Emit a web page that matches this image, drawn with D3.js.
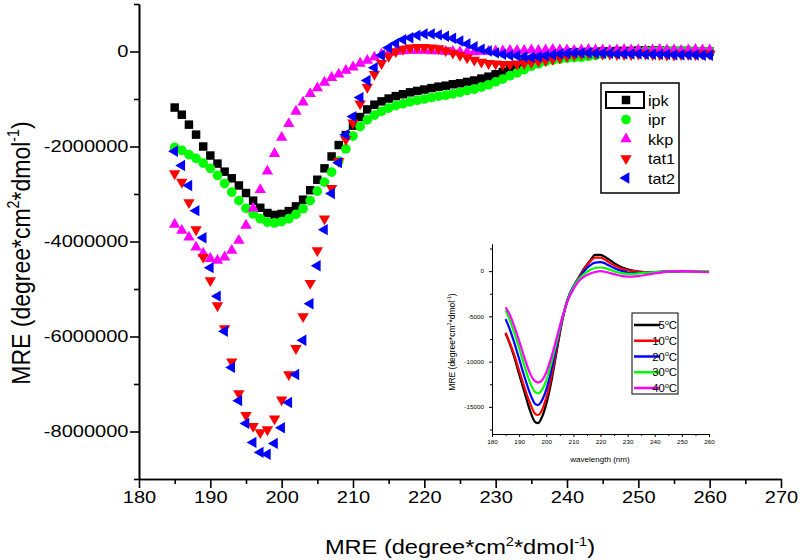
<!DOCTYPE html>
<html><head><meta charset="utf-8">
<script src="https://cdn.jsdelivr.net/npm/d3@7"></script>
<style>
body{margin:0;background:#fff}
svg{display:block}
text{font-family:"Liberation Sans",Arial,sans-serif;fill:#000}
</style>
</head><body>
<svg id="c" width="800" height="560"></svg>
<script>
// ---------- main chart data ----------
const wavelength = [185,186,187,188,189,190,191,192,193,194,
  195,196,197,198,199,200,201,202,203,204,
  205,206,207,208,209,210,211,212,213,214,
  215,216,217,218,219,220,221,222,223,224,
  225,226,227,228,229,230,231,232,233,234,
  235,236,237,238,239,240,241,242,243,244,
  245,246,247,248,249,250,251,252,253,254,
  255,256,257,258,259,260];

const ipk = [-1.18e6,-1.33e6,-1.54e6,-1.75e6,-2.00e6,-2.19e6,-2.36e6,-2.53e6,-2.67e6,-2.82e6,
  -2.98e6,-3.14e6,-3.29e6,-3.40e6,-3.44e6,-3.42e6,-3.36e6,-3.26e6,-3.12e6,-2.92e6,
  -2.70e6,-2.46e6,-2.21e6,-1.97e6,-1.76e6,-1.56e6,-1.38e6,-1.22e6,-1.12e6,-1.05e6,
  -0.99e6,-0.94e6,-0.90e6,-0.86e6,-0.83e6,-0.80e6,-0.77e6,-0.74e6,-0.72e6,-0.69e6,
  -0.67e6,-0.64e6,-0.61e6,-0.57e6,-0.53e6,-0.48e6,-0.43e6,-0.37e6,-0.31e6,-0.25e6,
  -0.19e6,-0.13e6,-0.09e6,-0.06e6,-0.04e6,-0.03e6,-0.02e6,-0.02e6,-0.01e6,-0.01e6,
  0,0,0.01e6,0.01e6,0.01e6,0.02e6,0.02e6,0.02e6,0.02e6,0.01e6,
  0.01e6,0.01e6,0.01e6,0,0,0];

const ipr = [-2.02e6,-2.08e6,-2.17e6,-2.25e6,-2.35e6,-2.46e6,-2.61e6,-2.78e6,-2.96e6,-3.14e6,
  -3.30e6,-3.42e6,-3.52e6,-3.59e6,-3.61e6,-3.58e6,-3.52e6,-3.43e6,-3.31e6,-3.14e6,
  -2.94e6,-2.75e6,-2.54e6,-2.31e6,-2.05e6,-1.78e6,-1.58e6,-1.44e6,-1.34e6,-1.26e6,
  -1.19e6,-1.14e6,-1.10e6,-1.06e6,-1.03e6,-1.00e6,-0.97e6,-0.94e6,-0.92e6,-0.89e6,
  -0.86e6,-0.82e6,-0.79e6,-0.75e6,-0.70e6,-0.64e6,-0.58e6,-0.51e6,-0.45e6,-0.38e6,
  -0.31e6,-0.26e6,-0.21e6,-0.18e6,-0.16e6,-0.14e6,-0.13e6,-0.12e6,-0.10e6,-0.08e6,
  -0.06e6,-0.04e6,-0.03e6,-0.02e6,-0.01e6,0,0.01e6,0.01e6,0.02e6,0.02e6,
  0.02e6,0.02e6,0.02e6,0.01e6,0.01e6,0.01e6];

const kkp = [-3.64e6,-3.77e6,-3.91e6,-4.12e6,-4.25e6,-4.36e6,-4.40e6,-4.33e6,-4.19e6,-3.98e6,
  -3.66e6,-3.30e6,-2.91e6,-2.52e6,-2.15e6,-1.81e6,-1.52e6,-1.26e6,-1.07e6,-0.89e6,
  -0.77e6,-0.65e6,-0.55e6,-0.48e6,-0.40e6,-0.33e6,-0.25e6,-0.19e6,-0.12e6,-0.06e6,
  -0.02e6,0,0.01e6,0.02e6,0.02e6,0.02e6,0.01e6,0.01e6,0,0,
  -0.01e6,-0.01e6,-0.01e6,0,0,0.01e6,0.01e6,0.02e6,0.02e6,0.02e6,
  0.03e6,0.02e6,0.03e6,0.04e6,0.03e6,0.03e6,0.02e6,0.03e6,0.04e6,0.03e6,
  0.03e6,0.02e6,0.03e6,0.04e6,0.03e6,0.03e6,0.02e6,0.03e6,0.04e6,0.03e6,
  0.03e6,0.02e6,0.03e6,0.04e6,0.03e6,0.03e6];

const tat1 = [-2.57e6,-2.75e6,-3.18e6,-3.75e6,-4.33e6,-4.82e6,-5.35e6,-5.83e6,-6.53e6,-7.20e6,
  -7.66e6,-7.89e6,-8.02e6,-7.96e6,-7.73e6,-7.33e6,-6.80e6,-6.25e6,-5.58e6,-4.88e6,
  -4.19e6,-3.52e6,-2.88e6,-2.31e6,-1.85e6,-1.50e6,-1.10e6,-0.75e6,-0.48e6,-0.25e6,
  -0.10e6,0,0.05e6,0.08e6,0.09e6,0.09e6,0.08e6,0.06e6,0.02e6,-0.03e6,
  -0.08e6,-0.13e6,-0.18e6,-0.22e6,-0.25e6,-0.26e6,-0.27e6,-0.27e6,-0.26e6,-0.25e6,
  -0.23e6,-0.21e6,-0.19e6,-0.16e6,-0.13e6,-0.10e6,-0.07e6,-0.05e6,-0.04e6,-0.04e6,
  -0.05e6,-0.05e6,-0.06e6,-0.06e6,-0.06e6,-0.05e6,-0.05e6,-0.06e6,-0.06e6,-0.07e6,
  -0.07e6,-0.06e6,-0.06e6,-0.06e6,-0.05e6,-0.05e6];

const tat2 = [-2.10e6,-2.40e6,-2.82e6,-3.35e6,-3.92e6,-4.55e6,-5.15e6,-5.89e6,-6.65e6,-7.35e6,
  -7.83e6,-8.23e6,-8.44e6,-8.48e6,-8.25e6,-7.92e6,-7.39e6,-6.80e6,-6.08e6,-5.31e6,
  -4.51e6,-3.75e6,-2.99e6,-2.34e6,-1.75e6,-1.37e6,-0.97e6,-0.61e6,-0.34e6,-0.08e6,
  0.08e6,0.17e6,0.25e6,0.29e6,0.34e6,0.37e6,0.37e6,0.35e6,0.32e6,0.28e6,
  0.22e6,0.16e6,0.10e6,0.05e6,0.01e6,-0.03e6,-0.06e6,-0.08e6,-0.09e6,-0.11e6,
  -0.12e6,-0.11e6,-0.09e6,-0.07e6,-0.05e6,-0.04e6,-0.03e6,-0.03e6,-0.03e6,-0.04e6,
  -0.04e6,-0.04e6,-0.05e6,-0.05e6,-0.05e6,-0.05e6,-0.06e6,-0.06e6,-0.06e6,-0.06e6,
  -0.07e6,-0.07e6,-0.07e6,-0.07e6,-0.08e6,-0.08e6];

const seriesNames = ["ipk","ipr","kkp","tat1","tat2"];
const xTickLabels = [180,190,200,210,220,230,240,250,260,270];
const xMinorTicks = [185,195,205,215,225,235,245,255,265];
const yTickLabels = [0,-2000000,-4000000,-6000000,-8000000];
const yMinorTicks = [1000000,-1000000,-3000000,-5000000,-7000000,-9000000];

// ---------- inset data ----------
const insetWavelength = [185,186,188,190,192,194,196,197,198,200,202,204,206,208,210,212,214,216,218,220,222,224,226,228,230,232,234,236,238,240,245,250,255,260];
const t5  = [-6900,-7600,-9300,-11400,-13400,-15400,-16700,-16800,-16400,-14700,-12000,-8600,-5300,-3100,-1800,-700,300,1100,1800,1800,1500,1100,700,400,200,50,-50,-100,-100,-100,-50,0,0,0];
const t10 = [-6800,-7500,-9100,-11000,-12900,-14600,-15800,-15900,-15600,-14000,-11500,-8400,-5300,-3000,-1700,-700,200,1000,1500,1500,1200,800,500,250,100,0,-50,-100,-100,-100,-50,0,0,0];
const t20 = [-5300,-6000,-7700,-9700,-11700,-13500,-14700,-14800,-14500,-13100,-10800,-8000,-5200,-3000,-1700,-800,0,600,950,1000,800,500,200,0,-150,-200,-200,-200,-150,-100,-50,0,0,0];
const t30 = [-4300,-5000,-6600,-8500,-10500,-12300,-13400,-13500,-13300,-12100,-10000,-7600,-5100,-3100,-1800,-900,-300,100,350,400,300,100,-100,-250,-300,-300,-250,-200,-150,-100,-50,0,0,0];
const t40 = [-4000,-4500,-5900,-7700,-9600,-11300,-12200,-12300,-12200,-11200,-9400,-7200,-5000,-3200,-2000,-1100,-600,-300,-100,0,-100,-250,-400,-550,-600,-600,-550,-450,-350,-250,-50,0,-50,-100];
const insetNames = ["5","10","20","30","40"];
const insetXTicks = [180,190,200,210,220,230,240,250,260];
const insetXMinor = [185,195,205,215,225,235,245,255];
const insetYTicks = [0,-5000,-10000,-15000];
const insetYMinor = [2500,-2500,-7500,-12500,-17500];

// ---------- drawing ----------
const svg = d3.select("#c");
const SX = 1.18; // horizontal text stretch of the original image
const plain = d => String(d); // hyphen-minus, as in the original

function rich(sel, parts, fs){
  let shifted = false;
  parts.forEach(([t, sup]) => {
    const ts = sel.append("tspan").text(t);
    if (sup) { ts.attr("font-size", fs*0.62).attr("dy", -fs*0.42); shifted = true; }
    else if (shifted) { ts.attr("dy", fs*0.42); shifted = false; }
  });
}

const x = d3.scaleLinear().domain([180,270]).range([139,781]);
const y = d3.scaleLinear().domain([-9000000,1000000]).range([479,4]);

function styleAxis(g, w){
  g.selectAll(".domain").attr("stroke","#000").attr("stroke-width",w);
  g.selectAll(".tick line").attr("stroke","#000").attr("stroke-width",w);
}

// main x axis
const gxm = svg.append("g").attr("transform","translate(0,479)")
  .call(d3.axisBottom(x).tickValues(xMinorTicks).tickSize(5).tickSizeOuter(0).tickFormat(""));
styleAxis(gxm,1.6);
const gx = svg.append("g").attr("transform","translate(0,479)")
  .call(d3.axisBottom(x).tickValues(xTickLabels).tickSize(9).tickPadding(3).tickSizeOuter(0).tickFormat(plain));
styleAxis(gx,1.6);
gx.selectAll("text").attr("font-size",17).attr("transform",`scale(${SX},1)`);

// main y axis
const gym = svg.append("g").attr("transform","translate(139,0)")
  .call(d3.axisLeft(y).tickValues(yMinorTicks).tickSize(5).tickSizeOuter(0).tickFormat(""));
styleAxis(gym,1.6);
const gy = svg.append("g").attr("transform","translate(139,0)")
  .call(d3.axisLeft(y).tickValues(yTickLabels).tickSize(9).tickSizeOuter(0).tickFormat(plain));
styleAxis(gy,1.6);
gy.selectAll("text").attr("font-size",17).attr("x",-10.5/SX).attr("transform",`scale(${SX},1)`);

// titles
const xt = svg.append("text").attr("text-anchor","middle").attr("font-size",20)
  .attr("transform",`translate(460,554) scale(${SX},1)`);
rich(xt, [["MRE (degree*cm",0],["2",1],["*dmol",0],["-1",1],[")",0]], 20);
const yt = svg.append("text").attr("text-anchor","middle").attr("font-size",23)
  .attr("transform",`translate(30,253) scale(1.15,1) rotate(-90)`);
rich(yt, [["MRE (degree*cm",0],["2",1],["*dmol",0],["-1",1],[")",0]], 23);

// symbols
const shapes = {
  ipk:  {type:d3.symbolSquare,   size:72, rot:0,   color:"#000000"},
  ipr:  {type:d3.symbolCircle,   size:74, rot:0,   color:"#00ff00"},
  kkp:  {type:d3.symbolTriangle, size:56, rot:0,   color:"#ff00ff"},
  tat1: {type:d3.symbolTriangle, size:56, rot:180, color:"#ff0000"},
  tat2: {type:d3.symbolTriangle, size:56, rot:-90, color:"#0000ff"}
};
const seriesValues = {ipk, ipr, kkp, tat1, tat2};

seriesNames.forEach(name => {
  const s = shapes[name];
  const path = d3.symbol().type(s.type).size(s.size)();
  const pts = wavelength.map((w,i)=>({w, v: seriesValues[name][i]}));
  svg.append("g").selectAll("path").data(pts).join("path")
    .attr("d", path).attr("fill", s.color)
    .attr("transform", d => `translate(${x(d.w)},${y(d.v)}) rotate(${s.rot})`);
});

// legend
const lg = svg.append("g");
lg.append("rect").attr("x",601).attr("y",83).attr("width",78).attr("height",110)
  .attr("fill","#fff").attr("stroke","#000").attr("stroke-width",1.5);
lg.append("rect").attr("x",606).attr("y",92).attr("width",38).attr("height",16)
  .attr("fill","none").attr("stroke","#000").attr("stroke-width",2);
const legY = d3.scalePoint().domain(seriesNames).range([100,178]);
seriesNames.forEach(name => {
  const s = shapes[name];
  lg.append("path").attr("d", d3.symbol().type(s.type).size(s.size)()).attr("fill", s.color)
    .attr("transform", `translate(626,${legY(name)}) rotate(${s.rot})`);
  lg.append("text").attr("font-size",15).attr("transform",`translate(648,${legY(name)+5.5}) scale(1.08,1)`).text(name);
});

// ---------- inset ----------
const xi = d3.scaleLinear().domain([180,260]).range([492,709]);
const yi = d3.scaleLinear().domain([-18000,3000]).range([434,244]);

const gxi2 = svg.append("g").attr("transform","translate(0,434)")
  .call(d3.axisBottom(xi).tickValues(insetXMinor).tickSize(2).tickSizeOuter(0).tickFormat(""));
styleAxis(gxi2,1);
const gxi = svg.append("g").attr("transform","translate(0,434)")
  .call(d3.axisBottom(xi).tickValues(insetXTicks).tickSize(3).tickPadding(3).tickSizeOuter(0).tickFormat(plain));
styleAxis(gxi,1);
gxi.selectAll("text").attr("font-size",5.5).attr("transform","scale(1.15,1)");

const gyi2 = svg.append("g").attr("transform","translate(492,0)")
  .call(d3.axisLeft(yi).tickValues(insetYMinor).tickSize(2).tickSizeOuter(0).tickFormat(""));
styleAxis(gyi2,1);
const gyi = svg.append("g").attr("transform","translate(492,0)")
  .call(d3.axisLeft(yi).tickValues(insetYTicks).tickSize(3).tickPadding(5).tickSizeOuter(0).tickFormat(plain));
styleAxis(gyi,1);
gyi.selectAll("text").attr("font-size",5.5).attr("x",-8/1.15).attr("transform","scale(1.15,1)");

svg.append("text").attr("text-anchor","middle").attr("font-size",7)
  .attr("transform",`translate(600,462) scale(1.15,1)`).text("wavelength (nm)");
const yti = svg.append("text").attr("text-anchor","middle").attr("font-size",8.5)
  .attr("transform",`translate(455,342) rotate(-90)`);
rich(yti, [["MRE (degree*cm",0],["2",1],["*dmol",0],["-1",1],[")",0]], 8.5);

const insetColors = {"5":"#000000","10":"#ff0000","20":"#0000ff","30":"#00ff00","40":"#ff00ff"};
const insetValues = {"5":t5,"10":t10,"20":t20,"30":t30,"40":t40};
const line = d3.line().x(d=>xi(d.w)).y(d=>yi(d.v)).curve(d3.curveMonotoneX);
insetNames.forEach(n => {
  const pts = insetWavelength.map((w,i)=>({w, v: insetValues[n][i]}));
  svg.append("path").attr("d", line(pts)).attr("fill","none")
    .attr("stroke", insetColors[n]).attr("stroke-width",2.2);
});

// inset legend
const il = svg.append("g");
il.append("rect").attr("x",632).attr("y",313).attr("width",46).attr("height",81)
  .attr("fill","#fff").attr("stroke","#000").attr("stroke-width",1);
const ilY = d3.scalePoint().domain(insetNames).range([325,388]);
insetNames.forEach(n => {
  il.append("line").attr("x1",634).attr("x2",660).attr("y1",ilY(n)).attr("y2",ilY(n))
    .attr("stroke", insetColors[n]).attr("stroke-width",2.5);
  const t = il.append("text").attr("text-anchor","end").attr("font-size",10.5)
    .attr("transform",`translate(677,${ilY(n)+4}) scale(1.08,1)`);
  rich(t, [[n,0],["o",1],["C",0]], 10.5);
});
</script>
</body></html>
